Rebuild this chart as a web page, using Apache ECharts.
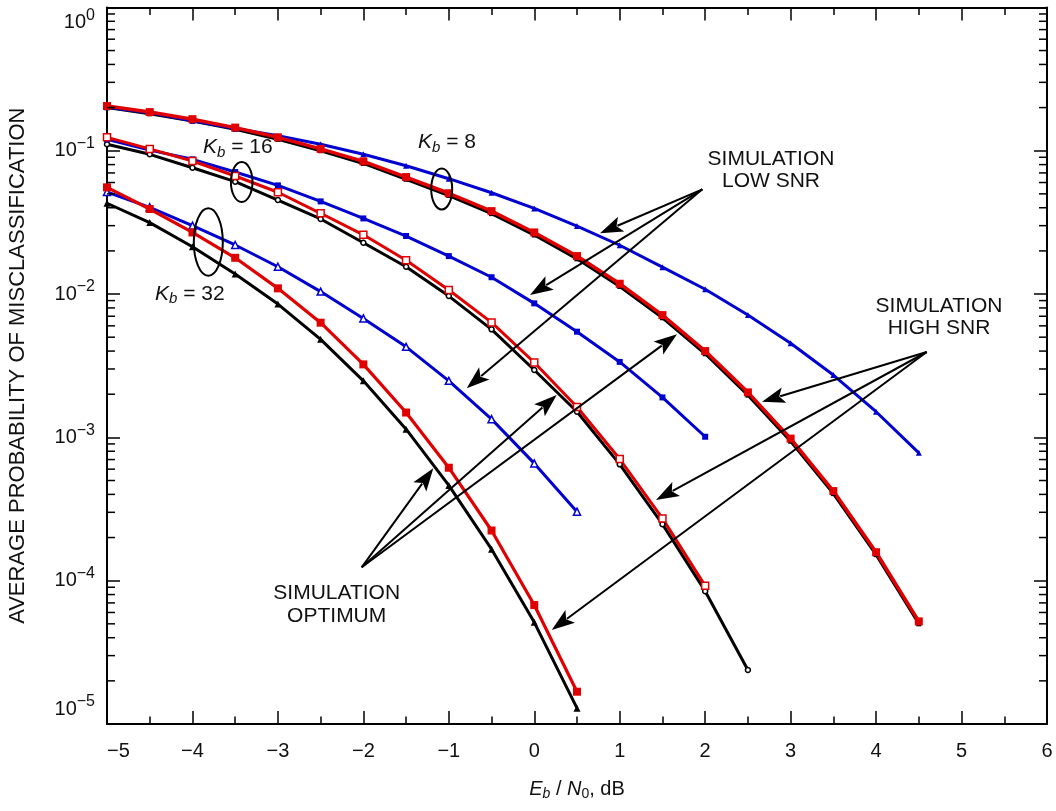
<!DOCTYPE html>
<html>
<head>
<meta charset="utf-8">
<script src="https://cdn.jsdelivr.net/npm/echarts@6/dist/echarts.min.js"></script>
<style>
  html, body { margin: 0; padding: 0; background: #fff; }
  #main { width: 1056px; height: 811px; }
</style>
</head>
<body>
<div id="main"></div>
<script>
(function () {
    var FONT = 'Liberation Sans';
    var xMin = -5, xMax = 6;

    // Eb/N0 sample points (dB)
    var ebn0 = [-5, -4.5, -4, -3.5, -3, -2.5, -2, -1.5, -1, -0.5, 0, 0.5, 1, 1.5, 2, 2.5, 3, 3.5, 4, 4.5];

    // Kb = 8
    var kb8Low  = [0.201, 0.184, 0.162, 0.143, 0.127, 0.111, 0.0944, 0.0785, 0.0638, 0.0509, 0.0396, 0.0298, 0.0219, 0.0154, 0.0108, 0.00714, 0.00453, 0.00272, 0.00151, 0.00078];
    var kb8High = [0.205, 0.186, 0.166, 0.145, 0.124, 0.103, 0.0843, 0.0655, 0.0505, 0.0379, 0.0269, 0.0184, 0.0118, 0.00713, 0.0040, 0.00206, 0.00098, 0.000422, 0.000158, 0.000052];
    var kb8Opt  = [0.200, 0.181, 0.161, 0.141, 0.120, 0.100, 0.0815, 0.0632, 0.0487, 0.0364, 0.0258, 0.0176, 0.0113, 0.00683, 0.00383, 0.00197, 0.00094, 0.000405, 0.000152, 0.000050];

    // Kb = 16
    var kb16Low  = [0.120, 0.101, 0.0871, 0.0710, 0.0573, 0.0443, 0.0337, 0.0254, 0.0184, 0.0131, 0.00861, 0.00546, 0.00336, 0.00190, 0.00101];
    var kb16High = [0.124, 0.103, 0.0848, 0.0666, 0.0513, 0.0366, 0.0259, 0.0172, 0.01067, 0.00634, 0.00333, 0.00163, 0.000706, 0.000272, 0.000092];
    var kb16Opt  = [0.111, 0.0944, 0.0761, 0.0608, 0.0453, 0.0334, 0.0228, 0.0155, 0.00968, 0.00567, 0.00295, 0.00151, 0.000648, 0.000248, 0.0000845, 0.0000238];

    // Kb = 32
    var kb32Low  = [0.0515, 0.0403, 0.0300, 0.0220, 0.0155, 0.0104, 0.00676, 0.00428, 0.00248, 0.00134, 0.000658, 0.000303];
    var kb32High = [0.0555, 0.0392, 0.0269, 0.0179, 0.01096, 0.00631, 0.00323, 0.00149, 0.000614, 0.000224, 0.0000676, 0.0000168];
    var kb32Opt  = [0.0430, 0.0315, 0.0214, 0.0138, 0.00851, 0.00483, 0.00248, 0.00114, 0.000462, 0.000166, 0.0000512, 0.0000129];

    // log axis minor ticks
    var decades = [-5, -4, -3, -2, -1];
    var minorMult = [2, 3, 4, 5, 6, 7, 8, 9];

    var RED = '#e00000', BLUE = '#0000d0', BLACK = '#000';

    function pairs(arr) {
        return arr.map(function (v, i) { return [ebn0[i], v]; });
    }

    function curve(name, arr, color, width, symbol, size, hollow) {
        return {
            name: name,
            type: 'line',
            data: pairs(arr),
            symbol: symbol,
            symbolSize: size,
            showSymbol: true,
            lineStyle: { color: color, width: width },
            itemStyle: hollow
                ? { color: '#fff', borderColor: color, borderWidth: 1.5 }
                : { color: color, borderWidth: 0 },
            emphasis: { disabled: true },
            animation: false
        };
    }

    var minorData = [];
    decades.forEach(function (d) {
        minorMult.forEach(function (m) { minorData.push([xMin, m * Math.pow(10, d)]); });
    });

    function supLabel(v) {
        var e = Math.round(Math.log10(v));
        var s = e < 0 ? '\u2212' + (-e) : String(e);
        return '{b|10}{s|' + s + '}';
    }

    function arrow(x1, y1, x2, y2) {
        var dx = x2 - x1, dy = y2 - y1, L = Math.sqrt(dx * dx + dy * dy);
        var ux = dx / L, uy = dy / L, hl = 23, hw = 8;
        var bx = x2 - ux * hl, by = y2 - uy * hl;
        return [
            { type: 'line', z: 100, shape: { x1: x1, y1: y1, x2: bx + ux * 4, y2: by + uy * 4 }, style: { stroke: '#000', lineWidth: 2 } },
            { type: 'polygon', z: 100, shape: { points: [[x2, y2], [bx - uy * hw, by + ux * hw], [bx + ux * 5, by + uy * 5], [bx + uy * hw, by - ux * hw]] }, style: { fill: '#000' } }
        ];
    }

    function kbText(x, y, n) {
        return {
            type: 'text', z: 100, x: x, y: y,
            style: {
                text: '{k|K}{b|b}{t| = ' + n + '}',
                verticalAlign: 'middle',
                fill: '#111',
                rich: {
                    k: { fontSize: 21, fontStyle: 'italic', fontFamily: FONT, fill: '#111' },
                    b: { fontSize: 15, fontStyle: 'italic', fontFamily: FONT, fill: '#111', padding: [10, 0, 0, 0] },
                    t: { fontSize: 21, fontFamily: FONT, fill: '#111' }
                }
            }
        };
    }

    function simText(x, y, txt) {
        return {
            type: 'text', z: 100, x: x, y: y,
            style: { text: txt, fontSize: 21, fontFamily: FONT, fill: '#111', align: 'center', verticalAlign: 'middle', lineHeight: 22.5 }
        };
    }

    function ellipse(cx, cy, rx, ry) {
        return { type: 'ellipse', z: 100, shape: { cx: cx, cy: cy, rx: rx, ry: ry }, style: { fill: 'none', stroke: '#000', lineWidth: 2 } };
    }

    var graphics = [];
    graphics.push(kbText(418, 142.5, '8'), kbText(203, 147.5, '16'), kbText(155, 294, '32'));
    graphics.push(ellipse(441.7, 189, 10.5, 20.5), ellipse(241.7, 182, 10.8, 20), ellipse(208.3, 242, 14.5, 33.7));
    graphics.push(simText(771, 170, 'SIMULATION\nLOW SNR'), simText(939, 317, 'SIMULATION\nHIGH SNR'), simText(336.7, 604.5, 'SIMULATION\nOPTIMUM'));
    [[600, 233.3], [530, 295], [466.7, 388.3]].forEach(function (t) { graphics = graphics.concat(arrow(702.3, 189.3, t[0], t[1])); });
    [[762, 401.7], [656, 500], [551.7, 630]].forEach(function (t) { graphics = graphics.concat(arrow(926.7, 352, t[0], t[1])); });
    [[433.3, 468.3], [556.7, 395], [677, 334.3]].forEach(function (t) { graphics = graphics.concat(arrow(361.7, 567.3, t[0], t[1])); });

    var axisLineStyle = { show: true, onZero: false, lineStyle: { color: '#000', width: 2 } };
    var tickStyle = { show: true, inside: true, length: 13, lineStyle: { color: '#000', width: 1.5 } };
    var minorTickStyle = { show: true, splitNumber: 2, length: 7.5, lineStyle: { color: '#000', width: 1.5 } };

    var myChart = echarts.init(document.getElementById('main'), null, { renderer: 'canvas' });

    var option = {
        backgroundColor: '#fff',
        animation: false,
        grid: { left: 107, right: 9, top: 7.4, bottom: 87, containLabel: false, outerBoundsMode: 'none' },
        xAxis: [{
            type: 'value', min: xMin, max: xMax, interval: 1, position: 'bottom',
            axisLine: axisLineStyle, axisTick: tickStyle, minorTick: minorTickStyle,
            splitLine: { show: false }, minorSplitLine: { show: false },
            axisLabel: {
                fontSize: 20, fontFamily: FONT, color: '#111', margin: 17, alignMinLabel: 'left',
                formatter: function (v) { return v < 0 ? '\u2212' + (-v) : String(v); }
            },
            name: '{i|E}{ib|b}{n| / }{i|N}{s|0}{n|, dB}',
            nameLocation: 'middle', nameGap: 54,
            nameTextStyle: {
                fontSize: 20, fontFamily: FONT, color: '#111',
                rich: {
                    i: { fontSize: 20, fontStyle: 'italic', fontFamily: FONT, color: '#111' },
                    ib: { fontSize: 14, fontStyle: 'italic', fontFamily: FONT, color: '#111', padding: [9, 0, 0, 0] },
                    s: { fontSize: 14, fontFamily: FONT, color: '#111', padding: [9, 0, 0, 0] },
                    n: { fontSize: 20, fontFamily: FONT, color: '#111' }
                }
            }
        }, {
            type: 'value', min: xMin, max: xMax, interval: 1, position: 'top',
            axisLine: axisLineStyle, axisTick: tickStyle, minorTick: minorTickStyle,
            splitLine: { show: false }, axisLabel: { show: false }
        }],
        yAxis: [{
            type: 'log', logBase: 10, min: 1e-5, max: 1, position: 'left',
            axisLine: axisLineStyle, axisTick: tickStyle,
            splitLine: { show: false },
            axisLabel: {
                margin: 12, formatter: supLabel,
                verticalAlignMinLabel: 'bottom', verticalAlignMaxLabel: 'top',
                rich: {
                    b: { fontSize: 20, fontFamily: FONT, color: '#111' },
                    s: { fontSize: 16, fontFamily: FONT, color: '#111', padding: [0, 0, 14, 0] }
                }
            },
            name: 'AVERAGE PROBABILITY OF MISCLASSIFICATION',
            nameLocation: 'middle', nameGap: 78, nameRotate: 90,
            nameTextStyle: { fontSize: 22, fontFamily: FONT, color: '#111' }
        }, {
            type: 'log', logBase: 10, min: 1e-5, max: 1, position: 'right',
            axisLine: axisLineStyle, axisTick: tickStyle,
            splitLine: { show: false }, axisLabel: { show: false }
        }],
        series: [
            curve('Kb8 optimum', kb8Opt, BLACK, 3, 'rect', 5, false),
            curve('Kb16 optimum', kb16Opt, BLACK, 3, 'circle', 5, true),
            curve('Kb32 optimum', kb32Opt, BLACK, 3, 'triangle', 7, false),
            curve('Kb8 low SNR', kb8Low, BLUE, 3, 'triangle', 6, false),
            curve('Kb16 low SNR', kb16Low, BLUE, 3, 'rect', 6, false),
            curve('Kb32 low SNR', kb32Low, BLUE, 3, 'triangle', 7, true),
            curve('Kb8 high SNR', kb8High, RED, 3.5, 'rect', 8, false),
            curve('Kb16 high SNR', kb16High, RED, 3, 'rect', 7, true),
            curve('Kb32 high SNR', kb32High, RED, 3.2, 'rect', 8, false),
            {
                name: 'minor ticks', type: 'custom', silent: true, clip: false, z: 5,
                data: minorData, encode: { x: 0, y: 1 },
                renderItem: function (params, api) {
                    var a = api.coord([xMin, api.value(1)]);
                    var b = api.coord([xMax, api.value(1)]);
                    return {
                        type: 'group',
                        children: [
                            { type: 'line', shape: { x1: a[0], y1: a[1], x2: a[0] + 8, y2: a[1] }, style: { stroke: '#000', lineWidth: 1.5 } },
                            { type: 'line', shape: { x1: b[0] - 8, y1: b[1], x2: b[0], y2: b[1] }, style: { stroke: '#000', lineWidth: 1.5 } }
                        ]
                    };
                }
            }
        ],
        graphic: graphics
    };

    myChart.setOption(option);

    window.addEventListener('resize', function () {
        myChart.resize();
    });
})();
</script>
</body>
</html>
